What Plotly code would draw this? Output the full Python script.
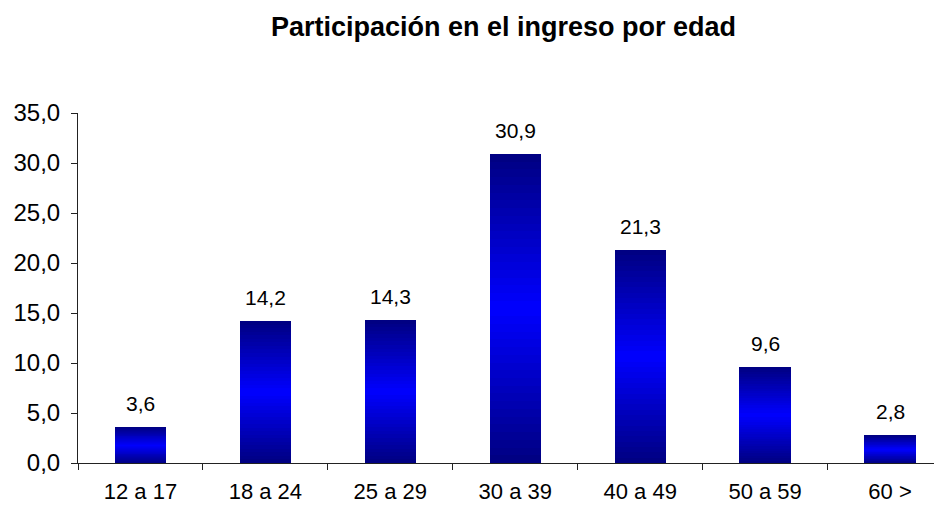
import plotly.graph_objects as go

# data
edades = ['12 a 17', '18 a 24', '25 a 29', '30 a 39', '40 a 49', '50 a 59', '60 >']
participacion = [3.6, 14.2, 14.3, 30.9, 21.3, 9.6, 2.8]
y_ticks = [0, 5, 10, 15, 20, 25, 30, 35]

N_SLICES = 40  # bars are cut into thin slices to fake the navy-blue-navy gradient
DARK = (0, 0, 128)
LIGHT = (0, 0, 255)


def slice_color(k):
    t = (k + 0.5) / N_SLICES
    d = abs(t - 0.5) * 2  # 0 in the middle, 1 at top/bottom
    r, g, b = [round(l + (dk - l) * d) for l, dk in zip(LIGHT, DARK)]
    return f'rgb({r},{g},{b})'


fig = go.Figure()
for k in range(N_SLICES):
    fig.add_bar(
        x=edades, y=[v / N_SLICES for v in participacion],
        marker=dict(color=slice_color(k), line=dict(width=0)),
        showlegend=False, hoverinfo='skip',
    )

# value labels above the bars
for cat, v in zip(edades, participacion):
    fig.add_annotation(
        x=cat, y=v, text=f'{v:.1f}'.replace('.', ','),
        showarrow=False, yanchor='bottom', yshift=10,
        font=dict(size=21, color='black'),
    )

# the page body adds an 8px offset, so margins are shifted to compensate
fig.update_layout(
    width=942, height=507,
    barmode='stack', bargap=0.59,
    plot_bgcolor='white', paper_bgcolor='white',
    separators=',.',
    font=dict(family='Liberation Sans, Arial, sans-serif', color='black'),
    margin=dict(l=70, r=8, t=105, b=52),
    title=dict(
        text='<b>Participación en el ingreso por edad</b>',
        x=0.526, xanchor='center', y=0.964, yanchor='middle',
        font=dict(size=27, color='black'),
    ),
)
fig.update_xaxes(
    range=[-0.5, 6.416], showline=True, linecolor='#222', linewidth=1,
    ticks='outside', tickson='boundaries', ticklen=6, tickcolor='#222',
    tickfont=dict(size=22), showgrid=False, automargin=False,
    ticklabelstandoff=9,
)
fig.update_yaxes(
    range=[0, 35], tickvals=y_ticks, tickformat='.1f',
    showline=True, linecolor='#222', linewidth=1,
    ticks='outside', ticklen=6, tickcolor='#222',
    tickfont=dict(size=24), showgrid=False, zeroline=False,
    ticklabelstandoff=6, automargin=False,
)

fig.write_html('out.html')
